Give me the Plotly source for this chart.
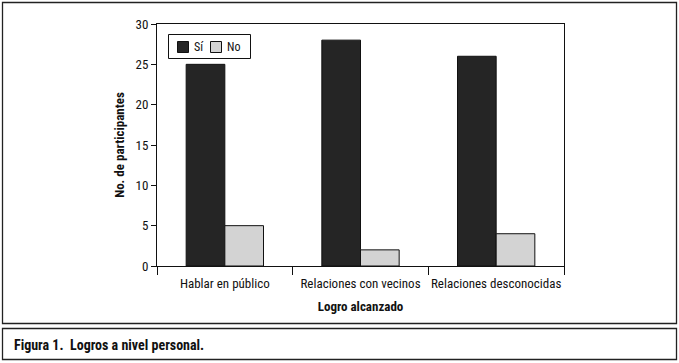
import plotly.graph_objects as go

categories = ["Hablar en público", "Relaciones con vecinos", "Relaciones desconocidas"]
si_values = [25, 28, 26]
no_values = [5, 2, 4]
y_ticks = [0, 5, 10, 15, 20, 25, 30]
series_names = ["Sí", "No"]
series_colors = ["#252525", "#d3d3d3"]

FONT = "Liberation Sans Narrow, Arial Narrow, Roboto Condensed, sans-serif"

W, H = 679, 363
L, R, T, B = 157, 564, 24, 266
pw, ph = R - L, B - T

def px(x):
    return (x - L) / pw

def py(y):
    return (B - y) / ph

fig = go.Figure()
for name, vals, col in zip(series_names, [si_values, no_values], series_colors):
    fig.add_trace(go.Bar(name=name, x=categories, y=vals,
                         marker=dict(color=col, line=dict(color="#111111", width=1))))

shapes = [
    dict(type="rect", xref="paper", yref="paper", x0=px(2.5), x1=px(676.5), y0=py(323.5), y1=py(2.5),
         line=dict(color="#222222", width=1.3), fillcolor="rgba(0,0,0,0)", layer="below"),
    dict(type="rect", xref="paper", yref="paper", x0=px(2.5), x1=px(676.5), y0=py(359.5), y1=py(328.5),
         line=dict(color="#222222", width=1.3), fillcolor="rgba(0,0,0,0)", layer="below"),
    # legend box
    dict(type="rect", xref="paper", yref="paper", x0=px(168.5), x1=px(250.5), y0=py(58.5), y1=py(34.5),
         line=dict(color="#111111", width=1), fillcolor="white", layer="above"),
]
annotations = [
    dict(text="<b>Figura 1.  Logros a nivel personal.</b>", xref="paper", yref="paper",
         x=px(12), y=py(345), xanchor="left", yanchor="middle", showarrow=False,
         font=dict(family=FONT, size=14, color="#111111")),
]
# legend entries
leg_x = [177, 210]
for name, col, lx in zip(series_names, series_colors, leg_x):
    shapes.append(dict(type="rect", xref="paper", yref="paper",
                       x0=px(lx + 0.5), x1=px(lx + 11.5), y0=py(52.5), y1=py(41.5),
                       line=dict(color="#111111", width=1), fillcolor=col, layer="above"))
    annotations.append(dict(text=name, xref="paper", yref="paper", x=px(lx + 15), y=py(47),
                            xanchor="left", yanchor="middle", showarrow=False,
                            font=dict(family=FONT, size=12, color="#111111")))

fig.update_layout(
    width=W, height=H,
    margin=dict(l=L, r=W - R, t=T, b=H - B, pad=0, autoexpand=False),
    paper_bgcolor="white", plot_bgcolor="white",
    barmode="group", bargap=0.43, bargroupgap=0,
    font=dict(family=FONT, size=13, color="#111111"),
    showlegend=False,
    shapes=shapes,
    annotations=annotations,
)

fig.update_xaxes(
    type="category", showline=True, linecolor="#111111", linewidth=1, mirror=True,
    ticks="outside", tickson="boundaries", ticklen=8, tickcolor="#111111",
    showgrid=False, tickfont=dict(family=FONT, size=13), tickangle=0, automargin=False,
    ticklabelstandoff=5,
    title=dict(text="<b>Logro alcanzado</b>", font=dict(family=FONT, size=13), standoff=12),
)
fig.update_yaxes(
    range=[0, 30], tickvals=y_ticks, showline=True, linecolor="#111111", linewidth=1, mirror=True,
    ticks="outside", ticklen=5, tickcolor="#111111", showgrid=False, zeroline=False, automargin=False,
    tickfont=dict(family=FONT, size=13),
    title=dict(text="<b>No. de participantes</b>", font=dict(family=FONT, size=13), standoff=8),
)

fig.write_html("out.html", config={"displayModeBar": False},
               post_script="document.body.style.margin='0';document.body.style.padding='0';")
